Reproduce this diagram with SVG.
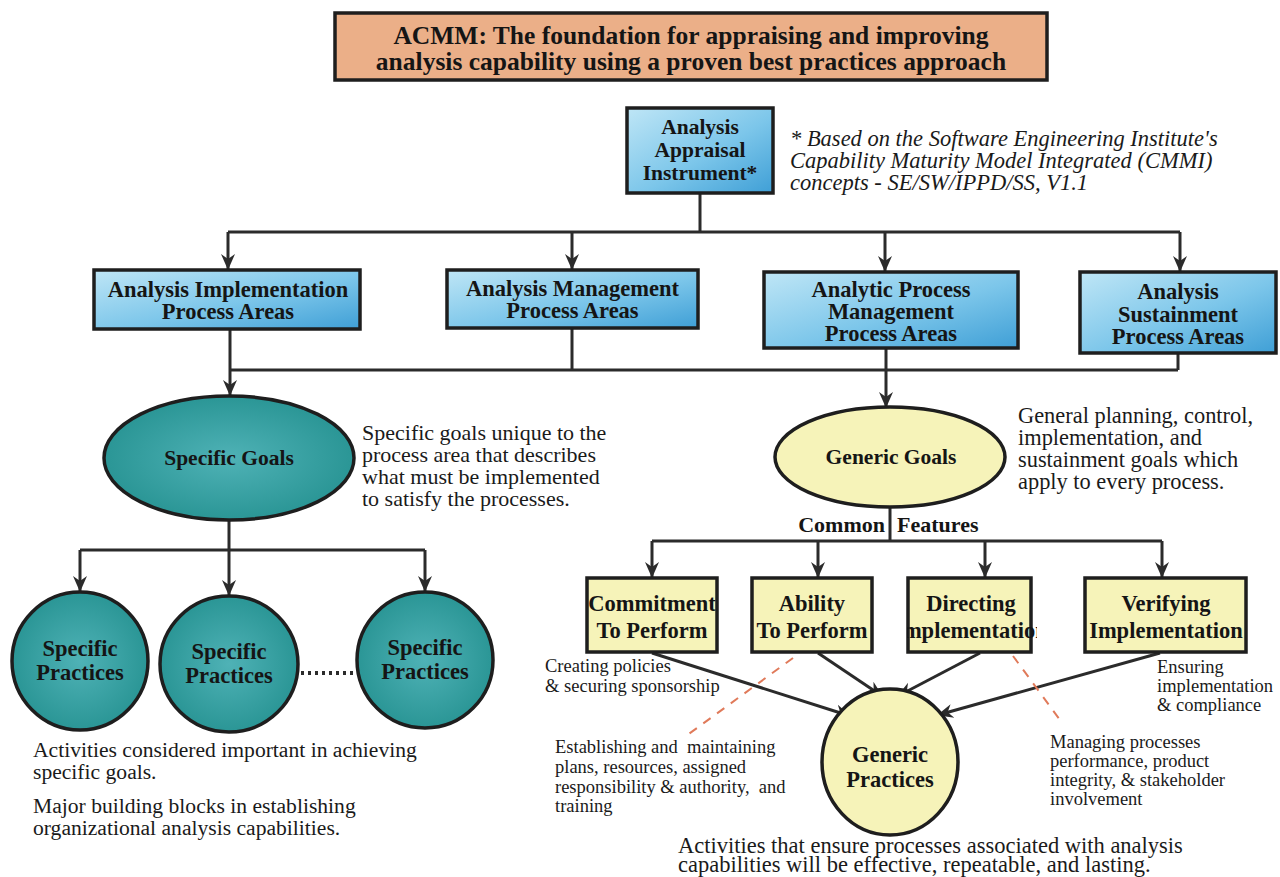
<svg xmlns="http://www.w3.org/2000/svg" width="1280" height="877" viewBox="0 0 1280 877">
  <defs>
    <linearGradient id="blueFill" x1="0" y1="0" x2="1" y2="1">
      <stop offset="0" stop-color="#bfe6f6"/>
      <stop offset="0.55" stop-color="#7cc6ea"/>
      <stop offset="1" stop-color="#3f9fd6"/>
    </linearGradient>
    <radialGradient id="tealFill" cx="0.5" cy="0.5" r="0.6">
      <stop offset="0" stop-color="#4fb2b6"/>
      <stop offset="1" stop-color="#23908f"/>
    </radialGradient>
    <clipPath id="directingClip">
      <rect x="907" y="578" width="130" height="74"/>
    </clipPath>
    <marker id="arrow" viewBox="0 0 16 16" refX="15" refY="8" markerWidth="16" markerHeight="16" markerUnits="userSpaceOnUse" orient="auto">
      <path d="M0,1 L16,8 L0,15 L5,8 z" fill="#2b2b2b"/>
    </marker>
    <style>
      .box { stroke: #1e1e1e; stroke-width: 3.5; }
      .blue { fill: url(#blueFill); }
      .teal { fill: url(#tealFill); }
      .pale { fill: #f6f3b9; }
      .peach { fill: #ebaf88; }
      .lbl { font-family: "Liberation Serif", "Times New Roman", serif; font-weight: bold; fill: #151515; text-anchor: middle; font-size: 22.5px; }
      .note { font-family: "Liberation Serif", "Times New Roman", serif; fill: #1a1a1a; font-size: 22px; }
      .small { font-family: "Liberation Serif", "Times New Roman", serif; fill: #1a1a1a; font-size: 18.5px; }
      .wire { stroke: #2b2b2b; stroke-width: 3; fill: none; }
      .arr { stroke: #2b2b2b; stroke-width: 3; fill: none; marker-end: url(#arrow); }
      .dash { stroke: #e07a5a; stroke-width: 2; stroke-dasharray: 9 8; fill: none; }
    </style>
  </defs>

  <!-- heading banner -->
  <g id="title">
    <rect class="box peach" x="335" y="13" width="712" height="67"/>
    <text class="lbl" style="font-size:25.5px"><tspan x="691" y="44">ACMM: The foundation for appraising and improving</tspan><tspan x="691" y="70">analysis capability using a proven best practices approach</tspan></text>
  </g>

  <!-- connectors -->
  <g id="connectors">
    <line class="wire" x1="700" y1="193" x2="700" y2="232"/>
    <line class="wire" x1="228" y1="232" x2="1180" y2="232"/>
    <line class="arr" x1="228" y1="232" x2="228" y2="269"/>
    <line class="arr" x1="572" y1="232" x2="572" y2="269"/>
    <line class="arr" x1="885" y1="232" x2="885" y2="271"/>
    <line class="arr" x1="1180" y1="232" x2="1180" y2="271"/>

    <line class="wire" x1="230" y1="329" x2="230" y2="370"/>
    <line class="wire" x1="572" y1="328" x2="572" y2="370"/>
    <line class="wire" x1="886" y1="348" x2="886" y2="370"/>
    <line class="wire" x1="1178" y1="353" x2="1178" y2="370"/>
    <line class="wire" x1="230" y1="370" x2="1178" y2="370"/>
    <line class="arr" x1="230" y1="370" x2="230" y2="395"/>
    <line class="arr" x1="886" y1="370" x2="886" y2="407"/>

    <line class="wire" x1="229" y1="520" x2="229" y2="550"/>
    <line class="wire" x1="80" y1="550" x2="425" y2="550"/>
    <line class="arr" x1="80" y1="550" x2="80" y2="591"/>
    <line class="arr" x1="229" y1="550" x2="229" y2="595"/>
    <line class="arr" x1="425" y1="550" x2="425" y2="591"/>
    <line stroke="#2b2b2b" stroke-width="4" stroke-dasharray="3 4" x1="301" y1="673" x2="357" y2="673"/>

    <line class="wire" x1="890" y1="507" x2="890" y2="541"/>
    <line class="wire" x1="652" y1="541" x2="1162" y2="541"/>
    <line class="arr" x1="652" y1="541" x2="652" y2="577"/>
    <line class="arr" x1="818" y1="541" x2="818" y2="577"/>
    <line class="arr" x1="985" y1="541" x2="985" y2="577"/>
    <line class="arr" x1="1162" y1="541" x2="1162" y2="577"/>

    <line class="arr" x1="652" y1="653" x2="850" y2="716"/>
    <line class="arr" x1="818" y1="653" x2="882" y2="696"/>
    <line class="arr" x1="980" y1="653" x2="898" y2="696"/>
    <line class="arr" x1="1160" y1="653" x2="938" y2="715"/>

    <line class="dash" x1="793" y1="658" x2="686" y2="736"/>
    <line class="dash" x1="1013" y1="656" x2="1063" y2="724"/>
  </g>

  <g id="appraisal-instrument">
    <rect class="box blue" x="627" y="108" width="146" height="85"/>
    <text class="lbl" style="font-size:21.5px"><tspan x="700" y="134">Analysis</tspan><tspan x="700" y="157">Appraisal</tspan><tspan x="700" y="180">Instrument*</tspan></text>
  </g>

  <g id="footnote">
    <text class="note" font-style="italic" style="font-size:22.5px"><tspan x="790" y="146">* Based on the Software Engineering Institute's</tspan><tspan x="790" y="168">Capability Maturity Model Integrated (CMMI)</tspan><tspan x="790" y="190">concepts - SE/SW/IPPD/SS, V1.1</tspan></text>
  </g>

  <g id="implementation-pa">
    <rect class="box blue" x="94" y="270" width="266" height="59"/>
    <text class="lbl"><tspan x="228" y="297">Analysis Implementation</tspan><tspan x="228" y="319">Process Areas</tspan></text>
  </g>

  <g id="management-pa">
    <rect class="box blue" x="447" y="270" width="251" height="58"/>
    <text class="lbl"><tspan x="572.5" y="296">Analysis Management</tspan><tspan x="572.5" y="318">Process Areas</tspan></text>
  </g>

  <g id="process-management-pa">
    <rect class="box blue" x="764" y="272" width="254" height="76"/>
    <text class="lbl"><tspan x="891" y="297">Analytic Process</tspan><tspan x="891" y="319">Management</tspan><tspan x="891" y="341">Process Areas</tspan></text>
  </g>

  <g id="sustainment-pa">
    <rect class="box blue" x="1080" y="272" width="196" height="81"/>
    <text class="lbl"><tspan x="1178" y="299">Analysis</tspan><tspan x="1178" y="322">Sustainment</tspan><tspan x="1178" y="344">Process Areas</tspan></text>
  </g>

  <g id="specific-goals">
    <ellipse class="box teal" cx="229" cy="458" rx="125" ry="62"/>
    <text class="lbl" x="229" y="465" style="font-size:21.5px">Specific Goals</text>
  </g>
  <g id="specific-goals-note">
    <text class="note"><tspan x="362" y="440">Specific goals unique to the</tspan><tspan x="362" y="462">process area that describes</tspan><tspan x="362" y="484">what must be implemented</tspan><tspan x="362" y="506">to satisfy the processes.</tspan></text>
  </g>

  <g id="specific-practices-1">
    <ellipse class="box teal" cx="80" cy="661" rx="68" ry="69"/>
    <text class="lbl"><tspan x="80" y="656">Specific</tspan><tspan x="80" y="680">Practices</tspan></text>
  </g>
  <g id="specific-practices-2">
    <ellipse class="box teal" cx="229" cy="664" rx="69" ry="68"/>
    <text class="lbl"><tspan x="229" y="659">Specific</tspan><tspan x="229" y="683">Practices</tspan></text>
  </g>
  <g id="specific-practices-n">
    <ellipse class="box teal" cx="425" cy="660" rx="68" ry="68"/>
    <text class="lbl"><tspan x="425" y="655">Specific</tspan><tspan x="425" y="679">Practices</tspan></text>
  </g>
  <g id="specific-practices-note">
    <text class="note" style="font-size:21.6px"><tspan x="33" y="757">Activities considered important in achieving</tspan><tspan x="33" y="779">specific goals.</tspan></text>
    <text class="note" style="font-size:21.6px"><tspan x="33" y="813">Major building blocks in establishing</tspan><tspan x="33" y="835">organizational analysis capabilities.</tspan></text>
  </g>

  <g id="generic-goals">
    <ellipse class="box pale" cx="890" cy="457" rx="115" ry="50"/>
    <text class="lbl" x="891" y="464" style="font-size:21.5px">Generic Goals</text>
  </g>
  <g id="generic-goals-note">
    <text class="note" style="font-size:22.4px"><tspan x="1018" y="423">General planning, control,</tspan><tspan x="1018" y="445">implementation, and</tspan><tspan x="1018" y="467">sustainment goals which</tspan><tspan x="1018" y="489">apply to every process.</tspan></text>
  </g>

  <g id="common-features">
    <text class="lbl" x="885" y="532" style="font-size:22px;text-anchor:end">Common</text>
    <text class="lbl" x="897" y="532" style="font-size:22px;text-anchor:start">Features</text>
  </g>

  <g id="commitment">
    <rect class="box pale" x="587" y="578" width="130" height="74"/>
    <text class="lbl"><tspan x="652" y="611">Commitment</tspan><tspan x="652" y="638">To Perform</tspan></text>
  </g>
  <g id="ability">
    <rect class="box pale" x="752" y="578" width="120" height="74"/>
    <text class="lbl"><tspan x="812" y="611">Ability</tspan><tspan x="812" y="638">To Perform</tspan></text>
  </g>
  <g id="directing">
    <rect class="box pale" x="908" y="578" width="123" height="74"/>
    <text class="lbl" clip-path="url(#directingClip)"><tspan x="971" y="611">Directing</tspan><tspan x="971" y="638">Implementation</tspan></text>
  </g>
  <g id="verifying">
    <rect class="box pale" x="1085" y="578" width="161" height="74"/>
    <text class="lbl"><tspan x="1166" y="611">Verifying</tspan><tspan x="1166" y="638">Implementation</tspan></text>
  </g>

  <g id="feature-notes">
    <text class="small"><tspan x="545" y="672">Creating policies</tspan><tspan x="545" y="692">&amp; securing sponsorship</tspan></text>
    <text class="small"><tspan x="1157" y="673">Ensuring</tspan><tspan x="1157" y="692">implementation</tspan><tspan x="1157" y="711">&amp; compliance</tspan></text>
    <text class="small" xml:space="preserve"><tspan x="555" y="753">Establishing and  maintaining</tspan><tspan x="555" y="773">plans, resources, assigned</tspan><tspan x="555" y="793">responsibility &amp; authority,  and</tspan><tspan x="555" y="812">training</tspan></text>
    <text class="small"><tspan x="1050" y="748">Managing processes</tspan><tspan x="1050" y="767">performance, product</tspan><tspan x="1050" y="786">integrity, &amp; stakeholder</tspan><tspan x="1050" y="805">involvement</tspan></text>
  </g>

  <g id="generic-practices">
    <ellipse class="box pale" cx="890" cy="762" rx="68" ry="73"/>
    <text class="lbl"><tspan x="890" y="762">Generic</tspan><tspan x="890" y="787">Practices</tspan></text>
  </g>
  <g id="generic-practices-note">
    <text class="note" style="font-size:22.5px"><tspan x="678" y="853">Activities that ensure processes associated with analysis</tspan><tspan x="678" y="872">capabilities will be effective, repeatable, and lasting.</tspan></text>
  </g>
</svg>
